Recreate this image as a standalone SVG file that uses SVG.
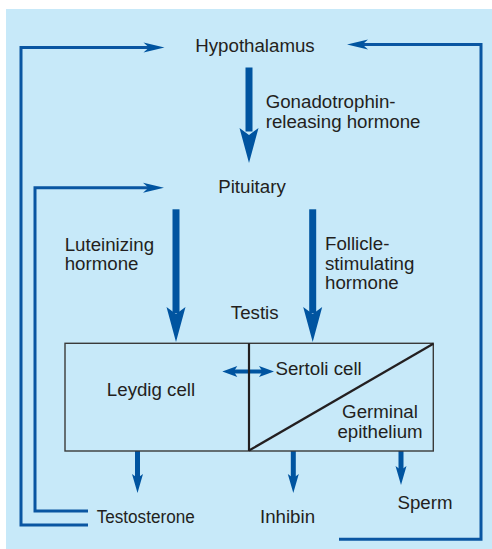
<svg xmlns="http://www.w3.org/2000/svg" width="492" height="549" viewBox="0 0 492 549">
  <style>
    .lbl { font-family: "Liberation Sans", Arial, sans-serif; font-size: 18.7px; fill: #231f20; }
    .mid { text-anchor: middle; }
    .fb { fill: none; stroke: #0a56a2; stroke-width: 3; }
    .blue { fill: #0054a0; }
    .box { fill: none; stroke: #3a3a3a; stroke-width: 1.4; }
    .div { fill: none; stroke: #231f20; stroke-width: 2.2; }
  </style>
  <defs>
    <path id="bigHead" d="M0,0 L-9.5,-35 L0,-28 L9.5,-35 Z"/>
    <path id="smallHead" d="M0,0 L-5.5,-19 L0,-15 L5.5,-19 Z"/>
    <path id="fbHead" d="M0,0 L-21,-5 L-15.5,0 L-21,5 Z"/>
    <path id="dblHead" d="M0,0 L-15,-5.5 L-11.5,0 L-15,5.5 Z"/>
  </defs>

  <rect x="6" y="9" width="486" height="540" fill="#c7e9f9"/>

  <g id="connectors">
    <g id="fb-testosterone-hypothalamus">
      <polyline class="fb" points="88,525 21,525 21,47.5 150,47.5"/>
      <use href="#fbHead" class="blue" transform="translate(164.5,47.5)"/>
    </g>
    <g id="fb-testosterone-pituitary">
      <polyline class="fb" points="88,511 35,511 35,187.8 150,187.8"/>
      <use href="#fbHead" class="blue" transform="translate(164,187.8)"/>
    </g>
    <g id="fb-inhibin-hypothalamus">
      <polyline class="fb" points="339,539.3 481,539.3 481,44.5 362,44.5"/>
      <use href="#fbHead" class="blue" transform="translate(347,44.5) rotate(180)"/>
    </g>

    <g id="arrow-gnrh" class="blue">
      <rect x="245.5" y="67.5" width="7" height="64"/>
      <use href="#bigHead" transform="translate(249,163)"/>
    </g>
    <g id="arrow-lh" class="blue">
      <rect x="172.5" y="209.3" width="7" height="104"/>
      <use href="#bigHead" transform="translate(176,342)"/>
    </g>
    <g id="arrow-fsh" class="blue">
      <rect x="309.2" y="209.3" width="7" height="104"/>
      <use href="#bigHead" transform="translate(312.7,342)"/>
    </g>

    <g id="arrow-paracrine" class="blue">
      <rect x="232" y="369.5" width="32" height="4"/>
      <use href="#dblHead" transform="translate(222.3,371.5) rotate(180)"/>
      <use href="#dblHead" transform="translate(274,371.5)"/>
    </g>

    <g id="arrow-testosterone" class="blue">
      <rect x="135" y="451" width="5" height="28"/>
      <use href="#smallHead" transform="translate(137.5,493)"/>
    </g>
    <g id="arrow-inhibin" class="blue">
      <rect x="290.8" y="451" width="5" height="28"/>
      <use href="#smallHead" transform="translate(293.3,493)"/>
    </g>
    <g id="arrow-sperm" class="blue">
      <rect x="398.5" y="451" width="5" height="20"/>
      <use href="#smallHead" transform="translate(401,485)"/>
    </g>
  </g>

  <g id="hypothalamus">
    <text class="lbl mid" x="255" y="52">Hypothalamus</text>
  </g>
  <g id="gnrh-label">
    <text class="lbl" x="265.7" y="108.3">Gonadotrophin-</text>
    <text class="lbl" x="265.7" y="127.5">releasing hormone</text>
  </g>
  <g id="pituitary">
    <text class="lbl mid" x="252" y="192.5">Pituitary</text>
  </g>
  <g id="lh-label">
    <text class="lbl" x="64.7" y="250.5">Luteinizing</text>
    <text class="lbl" x="64.7" y="270">hormone</text>
  </g>
  <g id="fsh-label">
    <text class="lbl" x="325" y="250.3">Follicle-</text>
    <text class="lbl" x="325" y="269.8">stimulating</text>
    <text class="lbl" x="325" y="289.3">hormone</text>
  </g>
  <g id="testis">
    <text class="lbl mid" x="254.7" y="319.3">Testis</text>
    <rect class="box" x="65" y="343.3" width="368.3" height="107.7"/>
    <line class="div" x1="249" y1="343.3" x2="249" y2="451"/>
    <line class="div" x1="249" y1="450.5" x2="433.3" y2="343.8"/>
  </g>
  <g id="leydig-cell">
    <text class="lbl mid" x="151" y="395.7">Leydig cell</text>
  </g>
  <g id="sertoli-cell">
    <text class="lbl" x="275.5" y="375">Sertoli cell</text>
  </g>
  <g id="germinal-epithelium">
    <text class="lbl mid" x="380" y="418.3">Germinal</text>
    <text class="lbl mid" x="380" y="438.3">epithelium</text>
  </g>
  <g id="testosterone">
    <text class="lbl" x="96.7" y="522.7" textLength="98" lengthAdjust="spacingAndGlyphs">Testosterone</text>
  </g>
  <g id="inhibin">
    <text class="lbl mid" x="287.5" y="522.7">Inhibin</text>
  </g>
  <g id="sperm">
    <text class="lbl mid" x="425" y="509">Sperm</text>
  </g>
</svg>
